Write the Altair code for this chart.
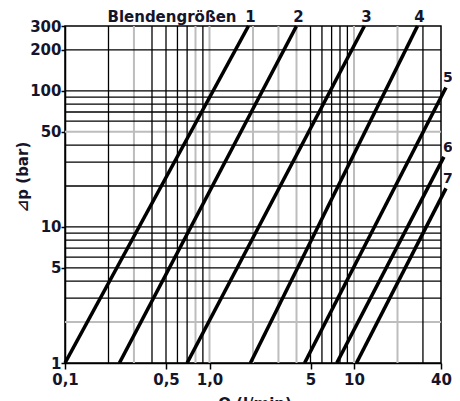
import altair as alt
import pandas as pd

# ---- data ----
sizes = ["1", "2", "3", "4", "5", "6", "7"]
q_start = [0.1, 0.238, 0.70, 1.92, 4.55, 7.6, 10.4]     # Q (l/min) at Δp = 1 bar
dp_start = [1, 1, 1, 1, 1, 1, 1]
q_end = [1.86, 4.0, 11.8, 27.5, 43.3, 41.9, 43.3]       # Q (l/min) at line end
dp_end = [300, 300, 300, 300, 106, 32.7, 19.2]          # Δp (bar) at line end

x_grid_black = [0.2, 0.4, 0.5, 0.6, 0.7, 0.9, 5, 6, 7, 8, 9, 30]
x_grid_gray = [0.3, 0.8, 1, 2, 3, 4, 10, 20]
y_grid_black = [200, 100, 90, 80, 70, 60, 40, 30, 20, 10, 9, 8, 7, 6, 5, 4, 3]
y_grid_gray = [50, 2]

x_ticks = [0.1, 0.5, 1, 5, 10, 40]
x_tick_labels = ["0,1", "0,5", "1,0", "5", "10", "40"]
y_ticks = [1, 5, 10, 50, 100, 200, 300]
y_tick_labels = ["1", "5", "10", "50", "100", "200", "300"]

header = "Blendengrößen"
y_title = "⊿p (bar)"
x_title = "Q (l/min)"

# ---- tables ----
rows = []
for s, q0, p0, q1, p1 in zip(sizes, q_start, dp_start, q_end, dp_end):
    rows.append({"size": s, "q": q0, "dp": p0, "o": 0})
    rows.append({"size": s, "q": q1, "dp": p1, "o": 1})
lines_df = pd.DataFrame(rows)
ends_df = pd.DataFrame({"size": sizes, "q": q_end, "dp": dp_end})
top_df = ends_df.iloc[:4]
right_df = ends_df.iloc[4:]

FONT = "DejaVu Sans"
TXT = "#15152a"
FS = 15

xscale = alt.Scale(type="log", domain=[0.1, 40], nice=False)
yscale = alt.Scale(type="log", domain=[1, 300], nice=False)


def lab_expr(vals, labs):
    e = "''"
    for v, l in reversed(list(zip(vals, labs))):
        e = f"(abs(datum.value - {v}) < {v}*0.001) ? '{l}' : {e}"
    return e


x_axis = alt.Axis(values=x_ticks, labelExpr=lab_expr(x_ticks, x_tick_labels),
                  title=None, grid=False, tickSize=6, labelPadding=3,
                  labelFlush=False, labelOverlap=False, labelBound=False)
y_axis = alt.Axis(values=y_ticks, labelExpr=lab_expr(y_ticks, y_tick_labels),
                  title=None, grid=False, tickSize=4, labelPadding=0,
                  labelFlush=False, labelOverlap=False, labelBound=False)


def X(field):
    return alt.X(field, type="quantitative", scale=xscale, axis=x_axis)


def Y(field):
    return alt.Y(field, type="quantitative", scale=yscale, axis=y_axis)


gx_gray = alt.Chart(pd.DataFrame({"v": x_grid_gray})).mark_rule(
    color="#bdbdbd", strokeWidth=2).encode(x=X("v"))
gy_gray = alt.Chart(pd.DataFrame({"v": y_grid_gray})).mark_rule(
    color="#bdbdbd", strokeWidth=2).encode(y=Y("v"))
gx_black = alt.Chart(pd.DataFrame({"v": x_grid_black})).mark_rule(
    color="black", strokeWidth=1.3).encode(x=X("v"))
gy_black = alt.Chart(pd.DataFrame({"v": y_grid_black})).mark_rule(
    color="black", strokeWidth=1.3).encode(y=Y("v"))

curves = alt.Chart(lines_df).mark_line(color="black", strokeWidth=3.6, clip=False).encode(
    x=X("q"),
    y=Y("dp"),
    detail="size:N",
    order="o:Q",
)

top_labels = alt.Chart(top_df).mark_text(
    font=FONT, fontWeight="bold", fontSize=FS, color=TXT,
    baseline="alphabetic", align="center", dx=2, dy=-4).encode(
    x=X("q"), y=Y("dp"), text="size:N")

right_labels = alt.Chart(right_df).mark_text(
    font=FONT, fontWeight="bold", fontSize=14, color=TXT,
    baseline="alphabetic", align="left", dy=-5).encode(
    x=alt.value(378), y=Y("dp"), text="size:N")

hdr = alt.Chart(pd.DataFrame({"t": [header]})).mark_text(
    font=FONT, fontWeight="bold", fontSize=FS, color=TXT,
    baseline="alphabetic", align="center").encode(
    x=alt.value(107), y=alt.value(-4), text="t:N")

ytitle = alt.Chart(pd.DataFrame({"t": [y_title]})).mark_text(
    font=FONT, fontWeight="bold", fontSize=FS, color=TXT,
    baseline="middle", align="center", angle=270).encode(
    x=alt.value(-42), y=alt.value(151), text="t:N")

xtitle = alt.Chart(pd.DataFrame({"t": [x_title]})).mark_text(
    font=FONT, fontWeight="bold", fontSize=FS, color=TXT,
    baseline="alphabetic", align="center").encode(
    x=alt.value(190), y=alt.value(383), text="t:N")

chart = alt.layer(
    gx_gray, gy_gray, gx_black, gy_black, curves,
    top_labels, right_labels, hdr, ytitle, xtitle
).properties(
    width=376, height=337,
    autosize=alt.AutoSizeParams(type="none"),
    padding={"left": 57, "top": 18, "right": 11, "bottom": 38},
    background="white",
).configure_view(
    stroke="black", strokeWidth=1.5
).configure_axis(
    domainColor="black", domainWidth=1.5,
    tickColor="black", tickWidth=1.5,
    labelFont=FONT, labelFontWeight="bold", labelFontSize=FS, labelColor=TXT,
)

chart.save("out.html", embed_options={"renderer": "svg", "actions": False})
